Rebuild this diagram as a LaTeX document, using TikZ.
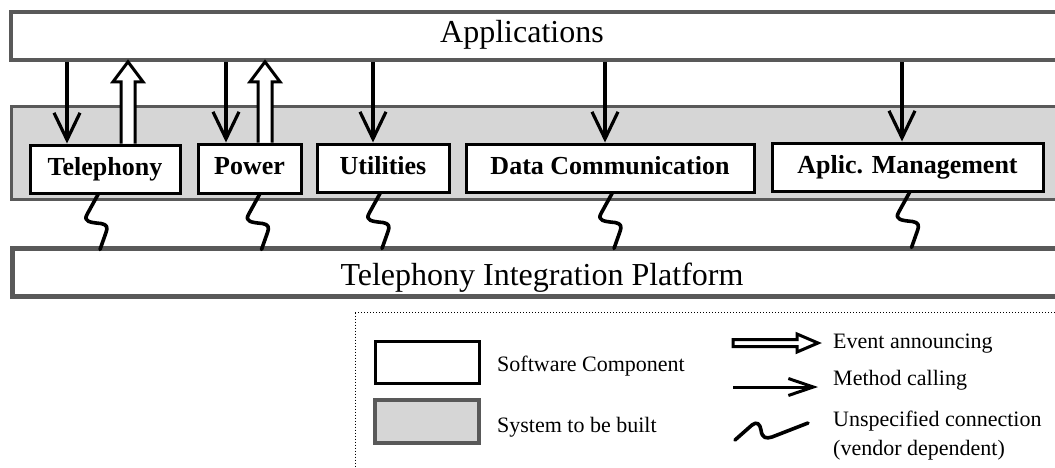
\documentclass[tikz,border=0pt]{standalone}
\usepackage{fontspec}
\setmainfont{Liberation Serif}
\usetikzlibrary{arrows.meta,calc}
\tikzset{
  layerbox/.style={draw=black!65, line width=3.5pt, fill=white, inner sep=0pt},
  platbox/.style={draw=black!65, line width=5pt, fill=white, inner sep=0pt},
  band/.style={draw=black!65, line width=3pt, fill=black!16, inner sep=0pt},
  comp/.style={draw=black, line width=3pt, fill=white, inner sep=0pt,
    text height=17pt, text depth=5pt,
    font=\fontsize{26}{30}\selectfont\bfseries},
  call/.style={line width=3.2pt, -{Straight Barb[length=27pt,width=26pt]}},
  hol/.style={draw=black, line width=3pt, fill=white, line join=miter},
  squigl/.style={line width=3.6pt, line cap=round, line join=round},
  bigtext/.style={font=\fontsize{32}{36}\selectfont, inner sep=0pt, anchor=base},
  legtext/.style={font=\fontsize{22}{26}\selectfont, inner sep=0pt, anchor=base west},
}
\newcommand\hollowup[2]{%
  \draw[hol] let \p1=(#1), \p2=(#2) in
    (\x1-7pt,\y1) -- (\x1-7pt,\y2-20pt) -- (\x1-15pt,\y2-20pt) -- (\x1,\y2)
    -- (\x1+15pt,\y2-20pt) -- (\x1+7pt,\y2-20pt) -- (\x1+7pt,\y1);}
\newcommand\squig[1]{%
  \draw[squigl] (#1) -- ($(#1)+(-11,20)$)
    .. controls ($(#1)+(-15,27)$) and ($(#1)+(-8,28)$) .. ($(#1)+(3,29)$)
    .. controls ($(#1)+(9,30)$) and ($(#1)+(10,33)$) .. ($(#1)+(8,38)$)
    -- ($(#1)+(2,55)$);}
\begin{document}
\begin{tikzpicture}[x=1pt,y=-1pt]
\useasboundingbox (0,0) rectangle (1055,467);

% layers
\node[band, minimum width=1052, minimum height=93] (sys) at (537,152.5) {};
\node[layerbox, minimum width=1052, minimum height=48] (app) at (537,36) {};
\node[bigtext] (apptxt) at (522,42) {Applications};
\node[platbox, minimum width=1051, minimum height=48] (plat) at (537.5,272) {};
\node[bigtext] (plattxt) at (542,285) {Telephony Integration Platform};

% components
\node[comp, minimum width=150, minimum height=48] (tel) at (105,169) {Telephony};
\node[comp, minimum width=103, minimum height=49] (pow) at (249.5,168.5) {Power};
\node[comp, minimum width=132, minimum height=48] (uti) at (383,168) {Utilities};
\node[comp, minimum width=288, minimum height=48] (dat) at (610,168) {Data Communication};
\node[comp, minimum width=271, minimum height=48] (apl) at (907.5,167) {Aplic. Management};

% x positions of connectors
\coordinate (m1) at (67,0);
\coordinate (m2) at (226,0);
\coordinate (m3) at (373,0);
\coordinate (m4) at (605,0);
\coordinate (m5) at (902,0);
\coordinate (e1) at (128,0);
\coordinate (e2) at (265,0);

% method calls
\draw[call] (m1 |- app.south) -- (m1 |- tel.north);
\draw[call] (m2 |- app.south) -- (m2 |- pow.north);
\draw[call] (m3 |- app.south) -- (m3 |- uti.north);
\draw[call] (m4 |- app.south) -- (m4 |- dat.north);
\draw[call] (m5 |- app.south) -- (m5 |- apl.north);

% events
\hollowup{e1 |- tel.north}{e1 |- app.south}
\hollowup{e2 |- pow.north}{e2 |- app.south}

% unspecified connections
\coordinate (s1) at ($(tel.south)+(-7,0)$);
\coordinate (s2) at ($(pow.south)+(10,0)$);
\coordinate (s3) at ($(uti.south)+(-3,0)$);
\coordinate (s4) at ($(dat.south)+(2,0)$);
\coordinate (s5) at ($(apl.south)+(2,0)$);
\squig{s1}
\squig{s2}
\squig{s3}
\squig{s4}
\squig{s5}

% legend
\node[draw=black, dotted, line width=1pt, minimum width=720, minimum height=180,
  anchor=north west, inner sep=0pt] (leg) at (355,312) {};
\node[comp, minimum width=104, minimum height=42] (lsw) at (427,362) {};
\node[band, line width=3.5pt, minimum width=104, minimum height=43] (lsys) at (427,421.5) {};
\node[legtext] (tsw) at (497,371) {Software Component};
\node[legtext] (tsys) at (497,432) {System to be built};

\coordinate (la1) at (733,343);
\coordinate (la2) at (818,343);
\draw[hol] ($(la1)+(0,-3.5)$) -- ($(la2)+(-21,-3.5)$) -- ($(la2)+(-21,-9)$) -- (la2)
  -- ($(la2)+(-21,9)$) -- ($(la2)+(-21,3.5)$) -- ($(la1)+(0,3.5)$) -- cycle;
\coordinate (lb1) at (733,387);
\coordinate (lb2) at (818,387);
\draw[line width=3pt, -{Straight Barb[length=25pt,width=17pt]}] (lb1) -- (lb2);
\coordinate (lc1) at (735,440);
\coordinate (lc2) at (808,423);
\draw[squigl] (lc1) -- (752,425) .. controls (757,421) and (760,424) .. (761,430)
  .. controls (762,438) and (766,439) .. (772,437) -- (lc2);

\node[legtext] (tev) at (833,348) {Event announcing};
\node[legtext] (tme) at (833,385) {Method calling};
\node[legtext] (tun) at (833,426) {Unspecified connection};
\node[legtext] (tve) at (833,455) {(vendor dependent)};
\end{tikzpicture}
\end{document}
